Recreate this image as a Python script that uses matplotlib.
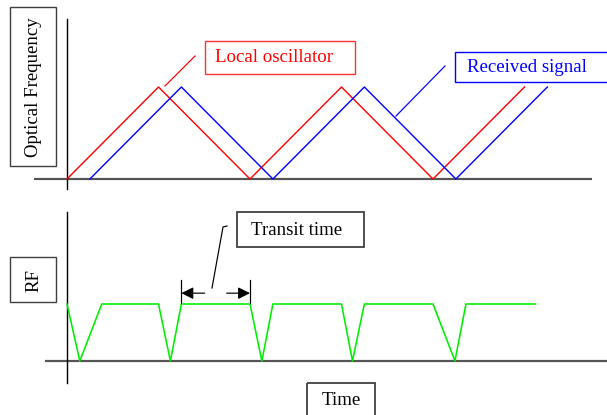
import matplotlib
matplotlib.use("Agg")
import matplotlib.pyplot as plt
from matplotlib.patches import Rectangle

# ---- data (time in units of half a sweep period) ----
lo_time = [0, 1, 2, 3, 4, 5]
lo_freq = [0, 1, 0, 1, 0, 1]
rx_time = [0.25, 1.25, 2.25, 3.25, 4.25, 5.25]
rx_freq = [0, 1, 0, 1, 0, 1]
rf_time = [0, 0.14, 0.38, 1.0, 1.13, 1.25, 2.0, 2.13, 2.25, 3.0, 3.12, 3.25, 4.0, 4.24, 4.36, 5.12]
rf_level = [1, 0, 1, 1, 0, 1, 1, 0, 1, 1, 0, 1, 1, 0, 1, 1]
transit_start = 1.25
transit_end = 2.0

labels = {
    "lo": "Local oscillator",
    "rx": "Received signal",
    "transit": "Transit time",
    "yfreq": "Optical Frequency",
    "yrf": "RF",
    "x": "Time",
}

W, H = 607, 415
fig = plt.figure(figsize=(W / 100, H / 100), dpi=100)
FONT = "Liberation Serif"
FS = 13.6

# overlay axes in pixel coords (top-left origin)
ov = fig.add_axes([0, 0, 1, 1])
ov.set_xlim(0, W)
ov.set_ylim(H, 0)
ov.axis("off")

PX = 1 / 100 * 72  # points per pixel

# axis lines
ov.plot([34, 592], [179, 179], color="#555555", lw=2.2 * PX, solid_capstyle="butt")
ov.plot([67, 67], [19, 189], color="black", lw=1.4 * PX)
ov.plot([45, 607], [361, 361], color="#555555", lw=2.2 * PX, solid_capstyle="butt")
ov.plot([67, 67], [212, 383], color="black", lw=1.4 * PX)


def box(x0, y0, x1, y1, ec, lw=1.4):
    ov.add_patch(Rectangle((x0, y0), x1 - x0, y1 - y0, fill=False, ec=ec, lw=lw * PX))


GRAY = "#404040"
# label boxes
box(10, 7, 56, 166, GRAY)
ov.text(34, 87, labels["yfreq"], rotation=90, ha="center", va="center", fontsize=FS, family=FONT)
box(10, 257, 56, 302, GRAY)
ov.text(34, 280, labels["yrf"], rotation=90, ha="center", va="center", fontsize=FS, family=FONT)
box(307, 383, 375, 420, GRAY, lw=1.8)
ov.text(341, 400, labels["x"], ha="center", va="center", fontsize=FS, family=FONT)

box(205, 41, 355, 74, "#ff3333")
ov.text(215, 58, labels["lo"], ha="left", va="center", fontsize=FS, family=FONT, color="#ff0000")
ov.plot([165, 195], [86, 56], color="#ff0000", lw=1.2 * PX)

box(455, 52, 608, 82, "#0000ff")
ov.text(467, 68, labels["rx"], ha="left", va="center", fontsize=FS, family=FONT, color="#0000ff")
ov.plot([396, 445], [116, 66], color="#0000ff", lw=1.2 * PX)

box(237, 212, 364, 247, GRAY, lw=1.8)
ov.text(251, 230, labels["transit"], ha="left", va="center", fontsize=FS, family=FONT)
ov.plot([212, 223, 227], [288, 227, 226], color="black", lw=1.2 * PX)

# top data axes: t=0 -> x=67px, 91.5 px/unit ; f=0 -> y=179px, 92 px/unit
sx = 91.5
top = fig.add_axes([0, 0, 1, 1], facecolor="none")
top.set_xlim(-67 / sx, (W - 67) / sx)
top.set_ylim(-(H - 179) / 92, 179 / 92)
top.axis("off")
top.plot(lo_time, lo_freq, color="#ff0000", lw=1.4 * PX)
top.plot(rx_time, rx_freq, color="#0000ff", lw=1.4 * PX)

# bottom data axes: rf=0 -> y=361px, 57 px/unit
bot = fig.add_axes([0, 0, 1, 1], facecolor="none")
bot.set_xlim(-67 / sx, (W - 67) / sx)
bot.set_ylim(-(H - 361) / 57, 361 / 57)
bot.axis("off")
bot.plot(rf_time, rf_level, color="#00ee00", lw=1.6 * PX)

# transit-time markers
for t in (transit_start, transit_end):
    bot.plot([t, t], [1.02, 1.42], color="black", lw=1.2 * PX)
ya = 1.19
mid_gap = 0.12
tmid = (transit_start + transit_end) / 2
for tail, head in ((tmid - mid_gap, transit_start), (tmid + mid_gap, transit_end)):
    bot.annotate("", xy=(head, ya), xytext=(tail, ya),
                 arrowprops=dict(arrowstyle="-|>", color="black", lw=1.2 * PX,
                                 mutation_scale=18, shrinkA=0, shrinkB=0))

fig.savefig("out.png", dpi=100)
